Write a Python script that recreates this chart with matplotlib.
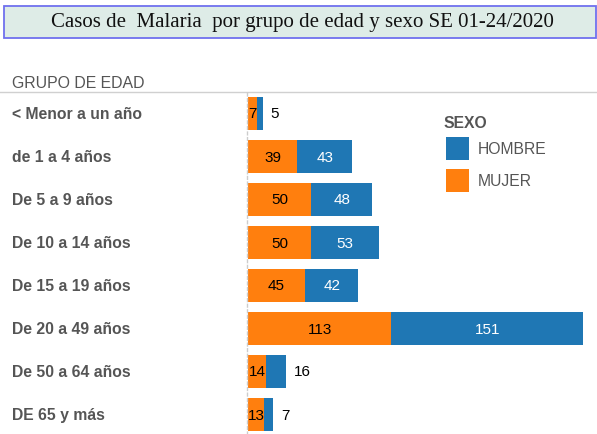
import matplotlib
matplotlib.use("Agg")
import matplotlib.pyplot as plt
from matplotlib.patches import Rectangle
from matplotlib.lines import Line2D

categories = ["< Menor a un año", "de 1 a 4 años", "De 5 a 9 años", "De 10 a 14 años",
              "De 15 a 19 años", "De 20 a 49 años", "De 50 a 64 años", "DE 65 y más"]
mujer = [7, 39, 50, 50, 45, 113, 14, 13]
hombre = [5, 43, 48, 53, 42, 151, 16, 7]
title = "Casos de  Malaria  por grupo de edad y sexo SE 01-24/2020"

C_H = "#1f77b4"
C_M = "#ff7f0e"
W, H = 597, 435
fig = plt.figure(figsize=(W/100, H/100), dpi=100)
plt.rcParams['font.family'] = ['Liberation Sans', 'DejaVu Sans']

def fx(px): return px / W
def fy(py): return 1 - py / H

# title box
fig.patches.append(Rectangle((fx(4), fy(39)), fx(596) - fx(4), fy(7) - fy(39),
                             transform=fig.transFigure, facecolor="#deece7",
                             edgecolor="#7070ee", linewidth=1.3))
fig.text(fx(302), fy(23), title, ha="center", va="center",
         family="Liberation Serif", fontsize=15, color="#111111")

fig.text(fx(12), fy(84), "GRUPO DE EDAD", ha="left", va="center", fontsize=11.4, color="#555555")
fig.add_artist(Line2D([0, 1], [fy(93), fy(93)], transform=fig.transFigure, color="#d0d0d0", lw=1))
fig.add_artist(Line2D([fx(247), fx(247)], [fy(93), 0], transform=fig.transFigure,
                      color="#cccccc", lw=1, ls=(0, (3, 1))))

ax = fig.add_axes([fx(248), fy(437), 1 - fx(248), fy(93) - fy(437)])
ax.set_xlim(0, 275)
ax.set_ylim(len(categories) - 0.5, -0.5)
ax.axis("off")
y = list(range(len(categories)))
ax.barh(y, mujer, height=0.77, color=C_M)
ax.barh(y, hombre, left=mujer, height=0.77, color=C_H)

for i, (m, h) in enumerate(zip(mujer, hombre)):
    ax.text(m / 2, i, str(m), ha="center", va="center", fontsize=11, color="black")
    if h >= 20:
        ax.text(m + h / 2, i, str(h), ha="center", va="center", fontsize=11, color="white")
    else:
        ax.text(m + h + 6, i, str(h), ha="left", va="center", fontsize=11, color="black")

for i, c in enumerate(categories):
    ypx = 114.5 + i * 43
    fig.text(fx(12), fy(ypx), c, ha="left", va="center", fontsize=11.3,
             fontweight="bold", color="#555555")

# legend
fig.text(fx(443), fy(123), "SEXO", ha="left", va="center", fontsize=11.3,
         fontweight="bold", color="#555555")
for (lab, col, top) in [("HOMBRE", C_H, 138), ("MUJER", C_M, 170)]:
    fig.patches.append(Rectangle((fx(446), fy(top + 23)), fx(23), fy(0) - fy(23),
                                 transform=fig.transFigure, facecolor=col, edgecolor="none"))
    fig.text(fx(478), fy(top + 11.5), lab, ha="left", va="center", fontsize=11.3, color="#555555")

fig.savefig("out.png", dpi=100)
